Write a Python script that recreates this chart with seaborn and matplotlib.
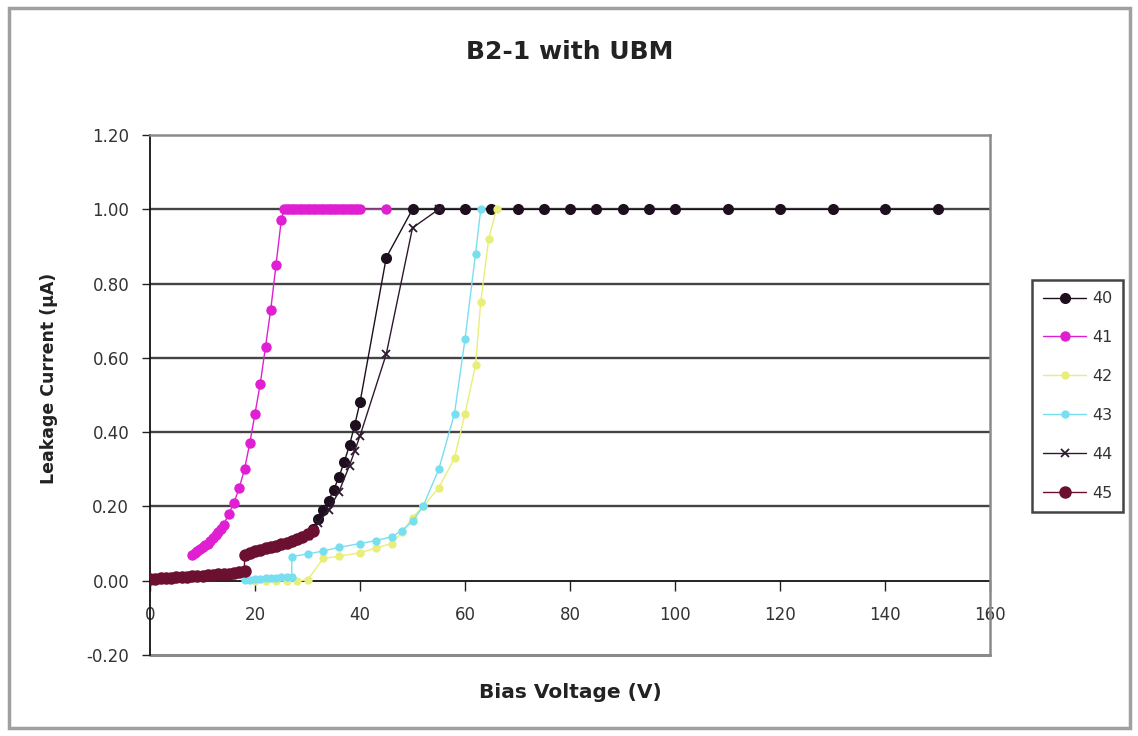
import matplotlib
matplotlib.use("Agg")
import matplotlib.pyplot as plt
import seaborn as sns
from matplotlib.patches import Rectangle
from matplotlib.ticker import FormatStrFormatter

# ---------------- data ----------------
series_names = ["40", "41", "42", "43", "44", "45"]

v40 = [18, 19, 20, 21, 22, 23, 24, 25, 26, 27, 28, 29, 30, 31, 32, 33, 34, 35, 36, 37, 38, 39, 40,
       45, 50, 55, 60, 65, 70, 75, 80, 85, 90, 95, 100, 110, 120, 130, 140, 150]
i40 = [0.070, 0.075, 0.080, 0.083, 0.087, 0.090, 0.094, 0.098, 0.102, 0.107, 0.112, 0.118, 0.125,
       0.140, 0.165, 0.190, 0.215, 0.245, 0.280, 0.320, 0.365, 0.420, 0.480,
       0.870, 1.00, 1.00, 1.00, 1.00, 1.00, 1.00, 1.00, 1.00, 1.00, 1.00, 1.00, 1.00, 1.00, 1.00, 1.00, 1.00]

v41 = [8, 8.5, 9, 9.5, 10, 10.5, 11, 11.5, 12, 12.5, 13, 13.5, 14, 15, 16, 17, 18, 19, 20, 21, 22, 23, 24, 25,
       25.5, 26, 26.5, 27, 27.5, 28, 28.5, 29, 29.5, 30, 30.5, 31, 31.5, 32, 32.5, 33, 33.5,
       34, 34.5, 35, 35.5, 36, 36.5, 37, 37.5, 38, 38.5, 39, 39.5, 40, 45]
i41 = [0.070, 0.074, 0.080, 0.085, 0.090, 0.095, 0.100, 0.107, 0.115, 0.122, 0.130, 0.140, 0.150,
       0.180, 0.210, 0.250, 0.300, 0.370, 0.450, 0.530, 0.630, 0.730, 0.850, 0.970,
       1.00, 1.00, 1.00, 1.00, 1.00, 1.00, 1.00, 1.00, 1.00, 1.00, 1.00, 1.00, 1.00, 1.00, 1.00,
       1.00, 1.00, 1.00, 1.00, 1.00, 1.00, 1.00, 1.00, 1.00, 1.00, 1.00, 1.00, 1.00, 1.00, 1.00, 1.00]

v42 = [20, 22, 24, 26, 28, 30, 33, 36, 40, 43, 46, 48, 50, 52, 55, 58, 60, 62, 63, 64.5, 66]
i42 = [0.000, 0.000, 0.000, 0.000, 0.000, 0.002, 0.060, 0.066, 0.075, 0.088, 0.100, 0.130, 0.170,
       0.200, 0.250, 0.330, 0.450, 0.580, 0.750, 0.920, 1.00]

v43 = [18, 19, 20, 21, 22, 23, 24, 25, 26, 27, 27, 30, 33, 36, 40, 43, 46, 48, 50, 52, 55, 58, 60, 62, 63]
i43 = [0.002, 0.003, 0.004, 0.005, 0.006, 0.007, 0.008, 0.009, 0.010, 0.010, 0.065, 0.072, 0.080,
       0.090, 0.100, 0.108, 0.118, 0.135, 0.160, 0.200, 0.300, 0.450, 0.650, 0.880, 1.00]

v44 = [30, 32, 34, 36, 38, 39, 40, 45, 50, 55]
i44 = [0.120, 0.155, 0.190, 0.240, 0.310, 0.350, 0.390, 0.610, 0.950, 1.00]

v45 = [0, 1, 2, 3, 4, 5, 6, 7, 8, 9, 10, 11, 12, 13, 14, 15, 16, 17, 18,
       18, 19, 20, 21, 22, 23, 24, 25, 26, 27, 28, 29, 30, 31]
i45 = [0.004, 0.005, 0.006, 0.007, 0.008, 0.009, 0.010, 0.011, 0.012, 0.013, 0.014, 0.015, 0.016,
       0.017, 0.018, 0.019, 0.021, 0.023, 0.025,
       0.070, 0.075, 0.080, 0.083, 0.087, 0.090, 0.094, 0.098, 0.102, 0.107, 0.112, 0.118, 0.125, 0.135]

x_ticks = [0, 20, 40, 60, 80, 100, 120, 140, 160]
y_ticks = [-0.20, 0.00, 0.20, 0.40, 0.60, 0.80, 1.00, 1.20]

title_text = "B2-1 with UBM"
x_label = "Bias Voltage (V)"
y_label = "Leakage Current (\u00b5A)"

# ---------------- styling ----------------
sns.set_theme(style="white")
plt.rcParams['font.family'] = ['DejaVu Sans']

styles = {
    "40": dict(color="#1e0f1e", marker="o", ms=8.0, mew=0),
    "41": dict(color="#e01ed2", marker="o", ms=7.5, mew=0),
    "42": dict(color="#e8ef78", marker="o", ms=6.0, mew=0),
    "43": dict(color="#78dff0", marker="o", ms=6.0, mew=0),
    "44": dict(color="#2e1a2e", marker="x", ms=6.0, mew=1.3),
    "45": dict(color="#6b1030", marker="o", ms=9.0, mew=0),
}
data = {"40": (v40, i40), "41": (v41, i41), "42": (v42, i42),
        "43": (v43, i43), "44": (v44, i44), "45": (v45, i45)}

W, H = 1138, 736
fig = plt.figure(figsize=(W / 100, H / 100), dpi=100)
fig.patch.set_facecolor("white")

# outer chart border
fig.patches.append(Rectangle((9 / W, 8 / H), (1130 - 9) / W, (728 - 8) / H,
                             transform=fig.transFigure, fill=False,
                             edgecolor="#a0a0a0", lw=2.5))

ax = fig.add_axes([150 / W, 81 / H, 840 / W, 520 / H])
ax.set_facecolor("white")

# horizontal grid
for yv in y_ticks:
    if yv not in (0.0, -0.20, 1.20):
        ax.axhline(yv, color="#444444", lw=1.7, zorder=1)

for name in series_names:
    xs, ys = data[name]
    st = styles[name]
    sns.lineplot(x=xs, y=ys, ax=ax, color=st["color"], marker=st["marker"],
                 markersize=st["ms"], markeredgewidth=st["mew"],
                 markeredgecolor=st["color"], linewidth=1.0,
                 sort=False, estimator=None, label=name, zorder=3)

ax.set_xlim(0, 160)
ax.set_ylim(-0.20, 1.20)
ax.set_xticks(x_ticks)
ax.set_yticks(y_ticks)
ax.yaxis.set_major_formatter(FormatStrFormatter("%.2f"))
ax.xaxis.set_major_formatter(FormatStrFormatter("%d"))

# spines
ax.spines["bottom"].set_position(("data", 0))
ax.spines["bottom"].set_color("#111111")
ax.spines["bottom"].set_linewidth(1.3)
ax.spines["bottom"].set_zorder(2)
ax.spines["left"].set_color("#111111")
ax.spines["left"].set_linewidth(1.3)
for s in ("top", "right"):
    ax.spines[s].set_color("#8a8a8a")
    ax.spines[s].set_linewidth(1.8)
ax.axhline(-0.20, color="#8a8a8a", lw=2.2, clip_on=False, zorder=1)

ax.tick_params(axis="x", direction="out", length=7, width=1.0, color="#222",
               pad=11, labelsize=12, labelcolor="#333333", bottom=True)
ax.tick_params(axis="y", direction="out", length=6, width=1.0, color="#222",
               pad=9, labelsize=12, labelcolor="#333333", left=True)

# labels
ax.set_xlabel(x_label, fontsize=14.5, fontweight="bold", color="#222222")
ax.xaxis.label.set_va("center")
ax.xaxis.set_label_coords(0.5, (655 - 692) / 520)
ax.set_ylabel(y_label, fontsize=12.5, fontweight="bold", color="#222222")
ax.yaxis.set_label_coords((58 - 150) / 840, (655 - 378) / 520)
ax.set_title(title_text, fontsize=18, fontweight="bold", color="#222222",
             y=(655 - 52) / 520, va="center", pad=0)

# legend
handles, labels = ax.get_legend_handles_labels()
leg = ax.legend(handles, labels, loc="center left",
                bbox_to_anchor=(1032 / W, 1 - 396 / H), bbox_transform=fig.transFigure,
                frameon=True, fancybox=False, edgecolor="#444444", framealpha=1,
                fontsize=11.5, handlelength=2.7, labelspacing=1.5,
                borderpad=0.7, handletextpad=0.35, borderaxespad=0)
leg.get_frame().set_linewidth(1.8)
for t in leg.get_texts():
    t.set_color("#333333")

fig.savefig("out.png", dpi=100, facecolor="white")
